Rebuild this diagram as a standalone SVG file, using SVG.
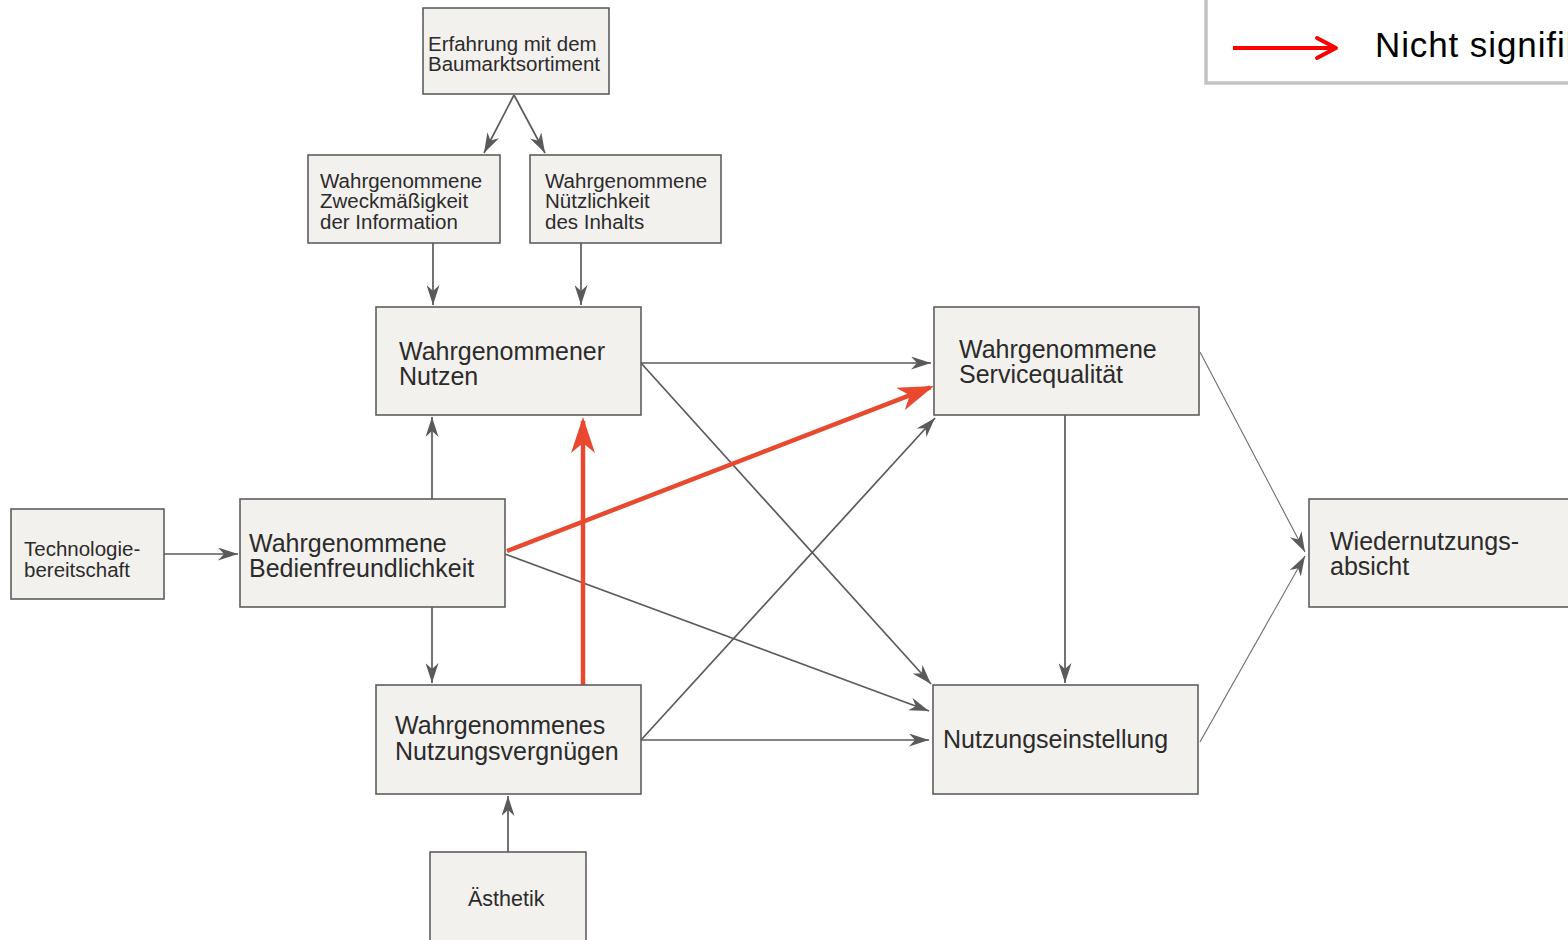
<svg xmlns="http://www.w3.org/2000/svg" width="1568" height="940" viewBox="0 0 1568 940">
<style>
.box{fill:#f3f1ee;stroke:#5e5e5e;stroke-width:1.6}
.t{font-family:"Liberation Sans",Arial,sans-serif;fill:#2b2b2b}
.big{font-size:25px}
.mid{font-size:20.5px}
.c{stroke:#5a5a5a;stroke-width:1.7;fill:none;marker-end:url(#ag)}
.thin{stroke:#6a6a6a;stroke-width:1.1;fill:none;marker-end:url(#ag)}
.r{stroke:#e8492f;stroke-width:4.5;fill:none;marker-end:url(#ar)}
</style>
<defs>
<marker id="ag" viewBox="0 0 20 13" refX="20" refY="6.5" markerWidth="20" markerHeight="13" markerUnits="userSpaceOnUse" orient="auto">
<path d="M0,0 L20,6.5 L0,13 L6,6.5 Z" fill="#5a5a5a"/>
</marker>
<marker id="ar" viewBox="0 0 36 24" refX="32" refY="12" markerWidth="36" markerHeight="24" markerUnits="userSpaceOnUse" orient="auto">
<path d="M0,0 L36,12 L0,24 L10,12 Z" fill="#e8492f"/>
</marker>
</defs>
<rect width="1568" height="940" fill="#ffffff"/>

<g id="legend">
<rect x="1206" y="-12" width="380" height="95" fill="#ffffff" stroke="#c3c3c3" stroke-width="3.5"/>
<line x1="1233" y1="48" x2="1334" y2="48" stroke="#ff0000" stroke-width="4"/>
<path d="M1317,38 L1336,48 L1317,58" fill="none" stroke="#ff0000" stroke-width="4" stroke-linecap="round" stroke-linejoin="round"/>
<text x="1375" y="57" font-family="Liberation Sans,Arial,sans-serif" font-size="35" letter-spacing="0.9" fill="#000000">Nicht signifikant</text>
</g>

<g id="connectors">
<line class="c" x1="514" y1="95" x2="484" y2="153"/>
<line class="c" x1="514" y1="95" x2="545" y2="153"/>
<line class="c" x1="433" y1="243" x2="433" y2="305"/>
<line class="c" x1="581" y1="243" x2="581" y2="305"/>
<line class="c" x1="432" y1="499" x2="432" y2="417"/>
<line class="c" x1="432" y1="607" x2="432" y2="683"/>
<line class="c" x1="164" y1="554" x2="238" y2="554"/>
<line class="c" x1="508" y1="852" x2="508" y2="796"/>
<line class="c" x1="641" y1="363" x2="931" y2="363"/>
<line class="c" x1="641" y1="363" x2="931" y2="684"/>
<line class="c" x1="505" y1="554" x2="929" y2="711"/>
<line class="c" x1="641" y1="740" x2="929" y2="740"/>
<line class="c" x1="641" y1="740" x2="935" y2="418"/>
<line class="c" x1="1065" y1="415" x2="1065" y2="683"/>
<line class="thin" x1="1200" y1="352" x2="1305" y2="552"/>
<line class="thin" x1="1200" y1="742" x2="1305" y2="556"/>
<line class="r" x1="583" y1="686" x2="583" y2="421"/>
<line class="r" x1="507" y1="551" x2="930.3" y2="387.4"/>
</g>

<g id="erfahrung">
<rect class="box" x="423" y="8" width="186" height="86"/>
<text class="t mid" x="428" y="51">Erfahrung mit dem</text>
<text class="t mid" x="428" y="71">Baumarktsortiment</text>
</g>
<g id="zweck">
<rect class="box" x="308" y="155" width="192" height="88"/>
<text class="t mid" x="320" y="188">Wahrgenommene</text>
<text class="t mid" x="320" y="208">Zweckmäßigkeit</text>
<text class="t mid" x="320" y="229">der Information</text>
</g>
<g id="nuetzlichkeit">
<rect class="box" x="530" y="155" width="191" height="88"/>
<text class="t mid" x="545" y="188">Wahrgenommene</text>
<text class="t mid" x="545" y="208">Nützlichkeit</text>
<text class="t mid" x="545" y="229">des Inhalts</text>
</g>
<g id="nutzen">
<rect class="box" x="376" y="307" width="265" height="108"/>
<text class="t big" x="399" y="360">Wahrgenommener</text>
<text class="t big" x="399" y="385">Nutzen</text>
</g>
<g id="technologie">
<rect class="box" x="11" y="509" width="153" height="90"/>
<text class="t mid" x="24" y="556">Technologie-</text>
<text class="t mid" x="24" y="577">bereitschaft</text>
</g>
<g id="bedienfreundlichkeit">
<rect class="box" x="240" y="499" width="265" height="108"/>
<text class="t big" x="249" y="552">Wahrgenommene</text>
<text class="t big" x="249" y="577">Bedienfreundlichkeit</text>
</g>
<g id="nutzungsvergnuegen">
<rect class="box" x="376" y="685" width="265" height="109"/>
<text class="t big" x="395" y="734">Wahrgenommenes</text>
<text class="t big" x="395" y="760">Nutzungsvergnügen</text>
</g>
<g id="aesthetik">
<rect class="box" x="430" y="852" width="156" height="100"/>
<text class="t mid" x="468" y="906" style="font-size:21.5px">Ästhetik</text>
</g>
<g id="servicequalitaet">
<rect class="box" x="934" y="307" width="265" height="108"/>
<text class="t big" x="959" y="358">Wahrgenommene</text>
<text class="t big" x="959" y="383">Servicequalität</text>
</g>
<g id="nutzungseinstellung">
<rect class="box" x="933" y="685" width="265" height="109"/>
<text class="t big" x="943" y="748">Nutzungseinstellung</text>
</g>
<g id="wiedernutzungsabsicht">
<rect class="box" x="1309" y="499" width="280" height="108"/>
<text class="t big" x="1330" y="550">Wiedernutzungs-</text>
<text class="t big" x="1330" y="575">absicht</text>
</g>
</svg>
